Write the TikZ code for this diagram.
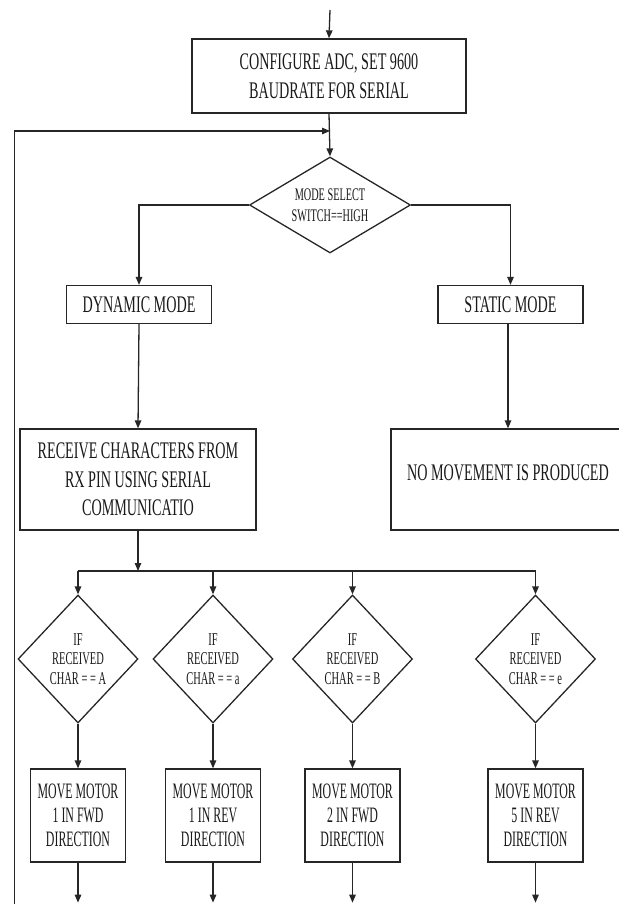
\documentclass[tikz,border=0pt]{standalone}
\usepackage{fontspec}
\setmainfont{Liberation Serif}[FakeStretch=0.595]
\newfontfamily\motorf{Liberation Serif}[FakeStretch=0.54]
\newfontfamily\diaf{Liberation Serif}[FakeStretch=0.58]
\usetikzlibrary{shapes.geometric,arrows.meta,calc}
\begin{document}
\begin{tikzpicture}[x=1pt,y=-1pt,
  line width=1.3pt, draw=black!85,
  arr/.style={-{Triangle[length=8pt,width=6.5pt]}},
  plain/.style={-},
  box/.style={draw, rectangle, inner sep=0pt, align=center, text=black!90},
  dia/.style={draw, diamond, inner sep=0pt, align=center, text=black!90},
  bigtxt/.style={font=\fontsize{23.8}{28.5}\selectfont},
  modetxt/.style={font=\diaf\fontsize{17.7}{21}\selectfont},
  chartxt/.style={font=\diaf\fontsize{18}{19.5}\selectfont},
  motortxt/.style={font=\motorf\fontsize{22}{24}\selectfont},
  motorbox/.style={box, motortxt, minimum width=95pt, minimum height=93pt},
  chardia/.style={dia, chartxt, minimum width=120pt, minimum height=128pt}
]
\useasboundingbox (0,0) rectangle (618,904);

% top
\coordinate (top) at (330,10);
\node[box, bigtxt, minimum width=274pt, minimum height=74pt] (cfg) at (329,76)
  {CONFIGURE ADC, SET 9600\\BAUDRATE FOR SERIAL};
\coordinate (join) at (330,131);
\coordinate (loopbot) at (14.6,912);

\node[dia, modetxt, aspect=1.667, minimum width=161pt, minimum height=96pt] (mode) at (330,205)
  {MODE SELECT\\SWITCH==HIGH};

\node[box, bigtxt, minimum width=145pt, minimum height=38pt] (dyn) at (139,304.5) {DYNAMIC MODE};
\node[box, bigtxt, minimum width=145pt, minimum height=38pt] (stat) at (510.5,304.5) {STATIC MODE};

\node[box, bigtxt, minimum width=236pt, minimum height=101pt] (recv) at (138,479.5)
  {RECEIVE CHARACTERS FROM\\RX PIN USING SERIAL\\COMMUNICATIO};
\node[box, bigtxt, text height=20pt, text depth=18pt, minimum width=234pt, minimum height=101pt] (nomove) at (508,479.5)
  {NO MOVEMENT IS PRODUCED};

\coordinate (bus) at (138,571);

\node[chardia] (d1) at (78,659)    {IF\\RECEIVED\\CHAR = = A};
\node[chardia] (d2) at (213,659)   {IF\\RECEIVED\\CHAR = = a};
\node[chardia] (d3) at (352.5,659) {IF\\RECEIVED\\CHAR = = B};
\node[chardia] (d4) at (535.5,659) {IF\\RECEIVED\\CHAR = = e};

\node[motorbox] (m1) at (78,815.5)    {MOVE MOTOR\\1 IN FWD\\DIRECTION};
\node[motorbox] (m2) at (213,815.5)   {MOVE MOTOR\\1 IN REV\\DIRECTION};
\node[motorbox] (m3) at (352.5,815.5) {MOVE MOTOR\\2 IN FWD\\DIRECTION};
\node[motorbox] (m4) at (535.5,815.5) {MOVE MOTOR\\5 IN REV\\DIRECTION};

\foreach \i in {1,...,4} {\coordinate (e\i) at ($(m\i.south)+(0,40)$);}

% connectors
\draw[arr] (top) -- (cfg.north);
\draw[arr] (cfg.south) -- (mode.north);
\draw[arr] (loopbot) |- (join);
\draw[arr] (mode.west) -| (dyn.north);
\draw[arr] (mode.east) -| (stat.north);
\draw[arr] (dyn.south) -- (recv.north);
\draw[arr] (stat.south -| nomove.north) -- (nomove.north);
\draw[arr] (recv.south) -- (bus);
\draw[plain] (bus -| d1.north) -- (bus -| d4.north);
\foreach \i in {1,...,4} {
  \draw[arr] (bus -| d\i.north) -- (d\i.north);
  \draw[arr] (d\i.south) -- (m\i.north);
  \draw[arr] (m\i.south) -- (e\i);
}
\end{tikzpicture}
\end{document}
